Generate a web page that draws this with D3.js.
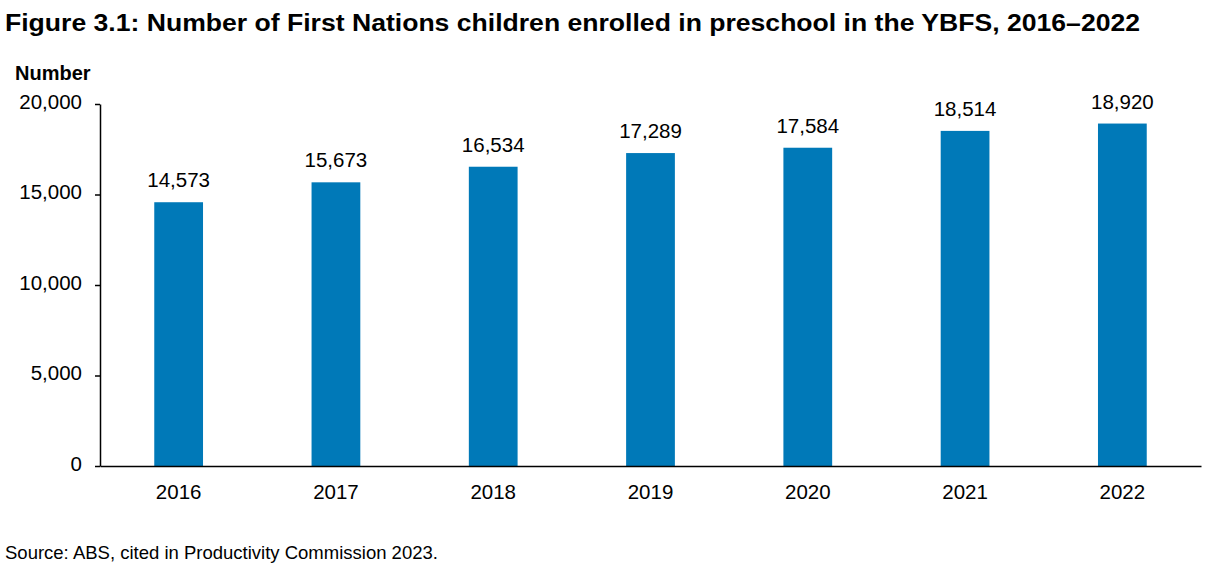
<!DOCTYPE html>
<html>
<head>
<meta charset="utf-8">
<script src="https://cdn.jsdelivr.net/npm/d3@7"></script>
<style>
  body { margin: 0; background: #fff; }
  svg { display: block; font-family: "Liberation Sans", Arial, sans-serif; }
</style>
</head>
<body>
<svg id="chart"></svg>
<script>
const CHART_WIDTH = 1224;
const CHART_HEIGHT = 570;
const MARGIN = { left: 100, right: 23, top: 104, bottom: 104 };
const WIDTH = CHART_WIDTH - MARGIN.left - MARGIN.right;
const HEIGHT = CHART_HEIGHT - MARGIN.top - MARGIN.bottom;

const years = ["2016", "2017", "2018", "2019", "2020", "2021", "2022"];
const children = [14573, 15673, 16534, 17289, 17584, 18514, 18920];
const yTicks = [0, 5000, 10000, 15000, 20000];

const BAR_COLOUR = "#0079b8";
const FONT = "Liberation Sans, Arial, sans-serif";

const svg = d3.select("#chart")
    .attr("width", CHART_WIDTH)
    .attr("height", CHART_HEIGHT);

// title is a touch wider than the font would make it, so stretch to fit
svg.append("text")
    .attr("x", 5).attr("y", 31)
    .attr("font-size", 23.5).attr("font-weight", "bold")
    .attr("textLength", 1135).attr("lengthAdjust", "spacingAndGlyphs")
    .text("Figure 3.1: Number of First Nations children enrolled in preschool in the YBFS, 2016\u20132022");

svg.append("text")
    .attr("x", 15).attr("y", 80)
    .attr("font-size", 20).attr("font-weight", "bold")
    .text("Number");

svg.append("text")
    .attr("x", 5).attr("y", 559)
    .attr("font-size", 18.5)
    .text("Source: ABS, cited in Productivity Commission 2023.");

const plot = svg.append("g")
    .attr("transform", `translate(${MARGIN.left},${MARGIN.top})`);

const x = d3.scaleBand()
    .domain(years)
    .range([0, WIDTH])
    .paddingInner(0.69)
    .paddingOuter(0.345);

const y = d3.scaleLinear()
    .domain([0, 20000])
    .range([HEIGHT, 0]);

const fmt = d3.format(",");

plot.selectAll("rect.bar")
    .data(years)
    .join("rect")
    .attr("class", "bar")
    .attr("x", d => x(d))
    .attr("width", x.bandwidth())
    .attr("y", (d, i) => y(children[i]))
    .attr("height", (d, i) => HEIGHT - y(children[i]))
    .attr("fill", BAR_COLOUR);

plot.selectAll("text.val")
    .data(years)
    .join("text")
    .attr("class", "val")
    .attr("x", d => x(d) + x.bandwidth() / 2)
    .attr("y", (d, i) => y(children[i]) - 15)
    .attr("text-anchor", "middle")
    .attr("font-size", 20.5)
    .attr("fill", "#000")
    .text((d, i) => fmt(children[i]));

const yAxis = plot.append("g")
    .call(d3.axisLeft(y).tickValues(yTicks).tickFormat(fmt).tickSize(5).tickPadding(13).tickSizeOuter(0));
yAxis.select(".domain").attr("stroke", "#000").attr("stroke-width", 1.5);
yAxis.selectAll(".tick line").attr("stroke", "#000").attr("stroke-width", 1.5);
yAxis.selectAll(".tick text")
    .attr("font-size", 20.5).attr("font-family", FONT).attr("fill", "#000")
    .attr("dy", "0.2em");

const xAxis = plot.append("g")
    .attr("transform", `translate(0,${HEIGHT})`)
    .call(d3.axisBottom(x).tickSize(0).tickPadding(18).tickSizeOuter(0));
xAxis.select(".domain").attr("stroke", "#000").attr("stroke-width", 1.5);
xAxis.selectAll(".tick text").attr("font-size", 20.5).attr("font-family", FONT).attr("fill", "#000");
</script>
</body>
</html>
